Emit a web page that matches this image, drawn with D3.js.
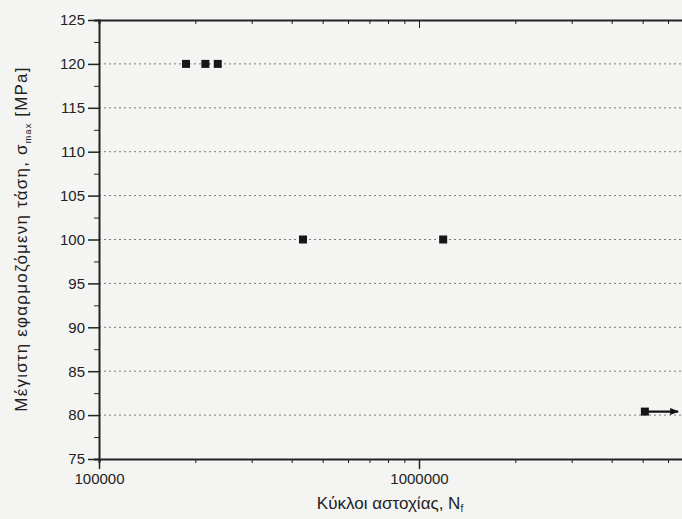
<!DOCTYPE html>
<html lang="el">
<head>
<meta charset="UTF-8">
<title>S-N</title>
<script src="https://d3js.org/d3.v7.min.js"></script>
<style>
  body { margin: 0; background: #f4f4f2; }
  svg { display: block; font-family: "Liberation Sans", Arial, sans-serif; }
  .axis path, .axis line { stroke: #222; }
  .axis text { fill: #222; font-size: 15px; }
  .grid line { stroke: #7a7a7a; stroke-dasharray: 2,3; }
</style>
</head>
<body>
<script>
// data
const cycles = [187000, 215000, 235000, 434000, 1190000, 5080000]
const stress = [120, 120, 120, 100, 100, 80.4]
const runout = [false, false, false, false, false, true]
const yTicks = [75, 80, 85, 90, 95, 100, 105, 110, 115, 120, 125]
const yMinor = [77.5, 82.5, 87.5, 92.5, 97.5, 102.5, 107.5, 112.5, 117.5, 122.5]
const xMajor = [1e5, 1e6]
const xMinor = [2e5, 3e5, 4e5, 5e5, 6e5, 7e5, 8e5, 9e5, 2e6, 3e6, 4e6, 5e6, 6e6, 7e6, 8e6, 9e6]
const gridVals = [80, 85, 90, 95, 100, 105, 110, 115, 120]

const width = 682, height = 519
const svg = d3.select("body").append("svg")
    .attr("width", width)
    .attr("height", height)

const x = d3.scaleLog().domain([1e5, 1e7]).range([99, 739])
const y = d3.scaleLinear().domain([75, 125]).range([459, 20])

// grid
svg.append("g").attr("class", "grid")
    .selectAll("line").data(gridVals).enter().append("line")
    .attr("x1", x(1e5)).attr("x2", width)
    .attr("y1", d => y(d)).attr("y2", d => y(d))

// bottom axis
svg.append("g").attr("class", "axis")
    .attr("transform", "translate(0," + y(75) + ")")
    .call(d3.axisBottom(x).tickValues(xMinor).tickSize(4).tickFormat(""))
    .call(g => g.select(".domain").attr("stroke-width", 2))
svg.append("g").attr("class", "axis")
    .attr("transform", "translate(0," + y(75) + ")")
    .call(d3.axisBottom(x).tickValues(xMajor).tickSize(10).tickPadding(4).tickFormat(d3.format("d")))
    .call(g => g.select(".domain").remove())
    .call(g => g.selectAll("line").attr("stroke-width", 1.5))

// top axis
svg.append("g").attr("class", "axis")
    .attr("transform", "translate(0," + y(125) + ")")
    .call(d3.axisTop(x).tickValues(xMinor).tickSize(-4).tickFormat(""))
    .call(g => g.select(".domain").attr("stroke-width", 2))
svg.append("g").attr("class", "axis")
    .attr("transform", "translate(0," + y(125) + ")")
    .call(d3.axisTop(x).tickValues(xMajor).tickSize(-8).tickFormat(""))
    .call(g => g.select(".domain").remove())

// left axis
svg.append("g").attr("class", "axis")
    .attr("transform", "translate(" + x(1e5) + ",0)")
    .call(d3.axisLeft(y).tickValues(yMinor).tickSize(5).tickFormat(""))
    .call(g => g.select(".domain").attr("stroke-width", 2))
svg.append("g").attr("class", "axis")
    .attr("transform", "translate(" + x(1e5) + ",0)")
    .call(d3.axisLeft(y).tickValues(yTicks).tickSize(11).tickPadding(3))
    .call(g => g.select(".domain").remove())
    .call(g => g.selectAll("line").attr("stroke-width", 1.5))

// runout arrow
const pts = cycles.map((c, i) => ({c: c, s: stress[i], r: runout[i]}))
svg.append("defs").append("marker")
    .attr("id", "arr").attr("viewBox", "0 0 10 10")
    .attr("refX", 9).attr("refY", 5)
    .attr("markerWidth", 4).attr("markerHeight", 4)
    .attr("orient", "auto")
    .append("path").attr("d", "M0,1L10,5L0,9Z").attr("fill", "#111")
svg.selectAll(".run").data(pts.filter(d => d.r)).enter().append("line")
    .attr("class", "run")
    .attr("x1", d => x(d.c)).attr("x2", d => x(d.c * 1.27))
    .attr("y1", d => y(d.s)).attr("y2", d => y(d.s))
    .attr("stroke", "#111").attr("stroke-width", 2.2)
    .attr("marker-end", "url(#arr)")

// points
svg.selectAll(".pt").data(pts).enter().append("rect")
    .attr("class", "pt")
    .attr("x", d => x(d.c) - 4).attr("y", d => y(d.s) - 4)
    .attr("width", 8).attr("height", 8)
    .attr("fill", "#161616")

// labels
const xl = svg.append("text")
    .attr("x", 390).attr("y", 509)
    .attr("text-anchor", "middle")
    .attr("font-size", 17).attr("fill", "#222")
    .text("Κύκλοι αστοχίας, N")
xl.append("tspan").attr("font-size", 10).attr("dy", 3).text("f")

const yl = svg.append("text")
    .attr("transform", "translate(27,239) rotate(-90)")
    .attr("text-anchor", "middle")
    .attr("font-size", 17).attr("fill", "#222")
    .attr("letter-spacing", 1.2)
    .text("Μέγιστη εφαρμοζόμενη τάση, σ")
yl.append("tspan").attr("font-size", 9).attr("dy", 4).text("max")
yl.append("tspan").attr("dy", -4).text(" [MPa]")
</script>
</body>
</html>
